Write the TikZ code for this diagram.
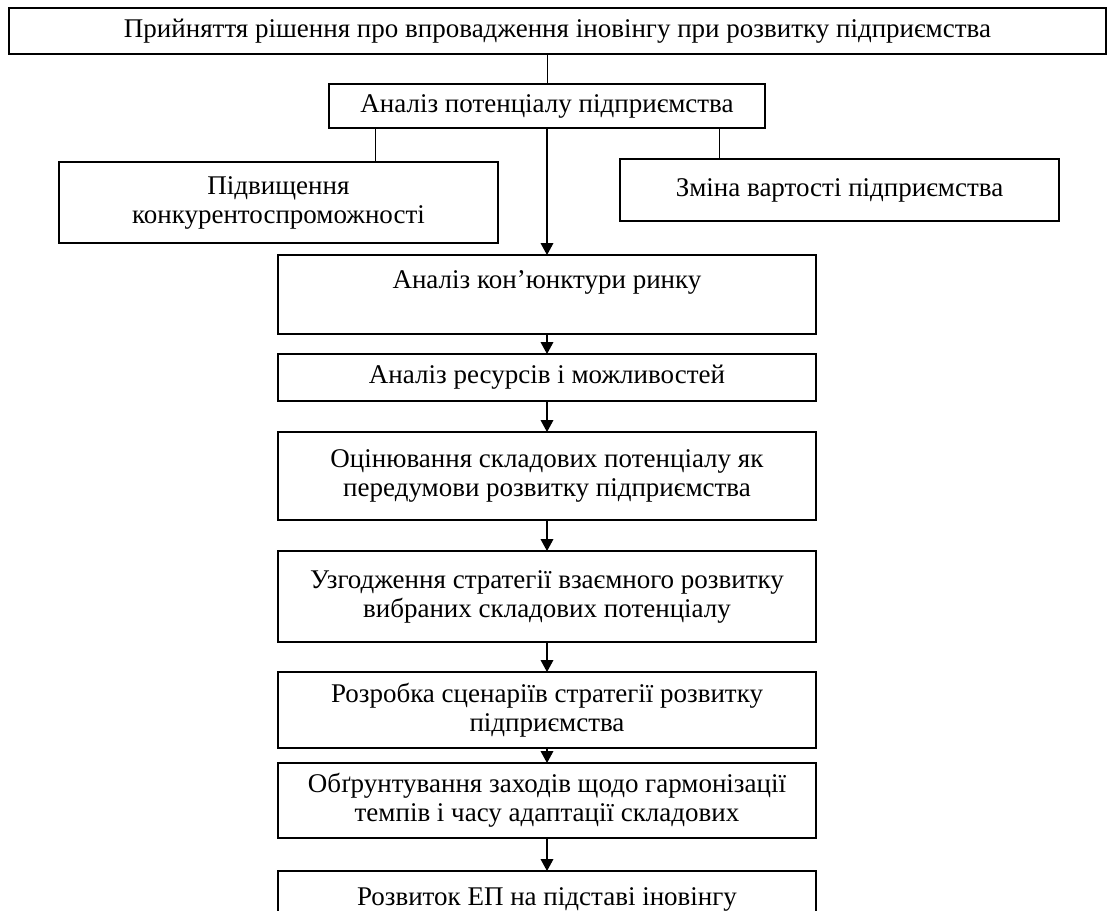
\documentclass[tikz,border=0pt]{standalone}
\usepackage{fontspec}
\setmainfont{Liberation Serif}
\usetikzlibrary{arrows.meta}

\begin{document}
\begin{tikzpicture}[x=1bp, y=-1bp,
  box/.style={draw=black, line width=1.6bp, inner sep=0pt, align=center,
    font=\fontsize{27bp}{29bp}\selectfont},
  link/.style={draw=black, line width=1bp},
  flow/.style={draw=black, line width=2.8bp,
    -{Triangle[length=12bp, width=12bp]}, shorten >=-1bp}]
\useasboundingbox[fill=white] (0,0) rectangle (1108,911);

% header
\node[box, minimum width=1097bp, minimum height=46bp] (top) at (557.5,31)
  {Прийняття рішення про впровадження іновінгу при розвитку підприємства};
\node[box, minimum width=436bp, minimum height=44bp] (an) at (547,106)
  {Аналіз потенціалу підприємства};

% side outcomes
\node[box, minimum width=439bp, minimum height=81bp] (pid) at (278.5,202.5)
  {Підвищення\\конкурентоспроможності};
\node[box, minimum width=439bp, minimum height=62bp] (zm) at (839.5,190)
  {Зміна вартості підприємства};

% main sequence
\node[box, minimum width=538bp, minimum height=79bp] (kon) at (547,294.5)
  {Аналіз кон’юнктури ринку\\\mbox{}};
\node[box, minimum width=538bp, minimum height=47bp] (res) at (547,377.5)
  {Аналіз ресурсів і можливостей};
\node[box, minimum width=538bp, minimum height=88bp] (ots) at (547,476)
  {Оцінювання складових потенціалу як\\передумови розвитку підприємства};
\node[box, minimum width=538bp, minimum height=91bp] (uz) at (547,596.5)
  {Узгодження стратегії взаємного розвитку\\вибраних складових потенціалу};
\node[box, minimum width=538bp, minimum height=76bp] (roz) at (547,710)
  {Розробка сценаріїв стратегії розвитку\\підприємства};
\node[box, minimum width=538bp, minimum height=75bp] (obg) at (547,800.5)
  {Обґрунтування заходів щодо гармонізації\\темпів і часу адаптації складових};
\node[box, minimum width=538bp, minimum height=80bp] (rv) at (547,911)
  {Розвиток ЕП на підставі іновінгу\\\mbox{}};

% connectors
\draw[link] (top.south -| an.north) -- (an.north);
\draw[link] ([xshift=47bp]an.south west) -- ([xshift=47bp]an.south west |- pid.north);
\draw[link] ([xshift=-46bp]an.south east) -- ([xshift=-46bp]an.south east |- zm.north);
\draw[flow] (an.south) -- (kon.north);
\draw[flow] (kon.south) -- (res.north);
\draw[flow] (res.south) -- (ots.north);
\draw[flow] (ots.south) -- (uz.north);
\draw[flow] (uz.south) -- (roz.north);
\draw[flow] (roz.south) -- (obg.north);
\draw[flow] (obg.south) -- (rv.north);
\end{tikzpicture}
\end{document}
